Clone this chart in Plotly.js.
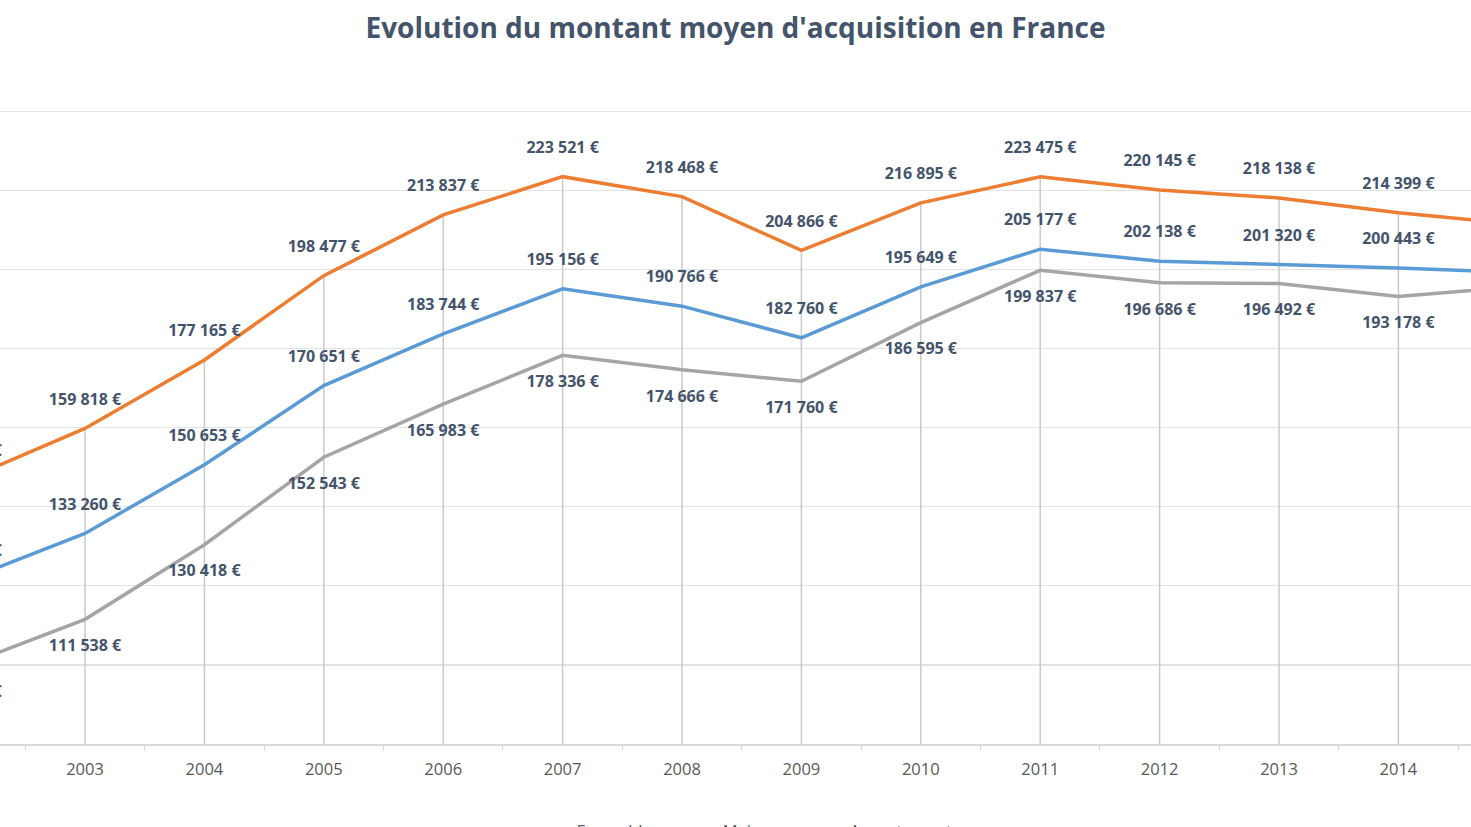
<!DOCTYPE html>
<html>
<head>
<meta charset="utf-8">
<script src="https://cdn.plot.ly/plotly-3.0.1.min.js"></script>
<style>
html,body{margin:0;padding:0;overflow:hidden;background:#fff;}
#chart{width:1471px;height:860px;}
</style>
</head>
<body>
<div id="chart"></div>
<script>
const years = [2002, 2003, 2004, 2005, 2006, 2007, 2008, 2009, 2010, 2011, 2012, 2013, 2014, 2015];
const ensemble = [121500, 133260, 150653, 170651, 183744, 195156, 190766, 182760, 195649, 205177, 202138, 201320, 200443, 199300];
const maison = [146900, 159818, 177165, 198477, 213837, 223521, 218468, 204866, 216895, 223475, 220145, 218138, 214399, 211500];
const appartement = [100000, 111538, 130418, 152543, 165983, 178336, 174666, 171760, 186595, 199837, 196686, 196492, 193178, 195700];
const seriesNames = ['Ensemble', 'Maison', 'Appartement'];
const yMin = 80000, yMax = 250000;

const labelFont = {family: 'Open Sans, sans-serif', size: 16, color: '#44546A', weight: 700};

// drop lines from the highest series down to the axis
const dropX = [], dropY = [];
years.forEach((yr, i) => { dropX.push(yr, yr, null); dropY.push(maison[i], yMin, null); });

function series(name, vals, color, pos) {
  return {
    type: 'scatter', mode: 'lines+markers+text', name: name,
    x: years, y: vals,
    line: {color: color, width: 3.5},
    marker: {size: 30, color: 'rgba(0,0,0,0)'},
    texttemplate: '%{y:,.0f} €', textposition: pos,
    textfont: labelFont, cliponaxis: true, hoverinfo: 'skip'
  };
}

const data = [
  {type: 'scatter', mode: 'lines', x: dropX, y: dropY, showlegend: false,
   line: {color: '#C9C9C9', width: 1.5}, hoverinfo: 'skip'},
  series(seriesNames[0], ensemble, '#5B9BD5', 'top center'),
  series(seriesNames[1], maison, '#ED7D31', 'top center'),
  series(seriesNames[2], appartement, '#A5A5A5', 'bottom center')
];

const layout = {
  width: 1471, height: 860,
  margin: {l: 0, r: 0, t: 72, b: 116},
  paper_bgcolor: '#fff', plot_bgcolor: '#fff',
  separators: ', ',
  title: {text: "Evolution du montant moyen d'acquisition en France",
          font: {family: 'Open Sans, sans-serif', size: 28, color: '#44546A', weight: 700},
          x: 0.5, xanchor: 'center', y: 1 - 28/860, yref: 'container', yanchor: 'middle'},
  xaxis: {range: [2002.288, 2014.608], tickmode: 'array', tickvals: years, ticktext: years.map(String),
          showgrid: false, zeroline: false, showline: true, linecolor: '#D9D9D9', linewidth: 1.5,
          ticks: '', ticklabelstandoff: 10,
          tickfont: {family: 'Open Sans, sans-serif', size: 16.5, color: '#595959'},
          minor: {tick0: 2002.5, dtick: 1, ticks: 'outside', ticklen: 5, tickcolor: '#D9D9D9', showgrid: false}},
  yaxis: {range: [yMin, yMax], dtick: 20000, showticklabels: false, showgrid: true,
          gridcolor: '#E3E3E3', gridwidth: 1.2, zeroline: false, showline: false},
  showlegend: true,
  legend: {orientation: 'h', x: 0.499, xanchor: 'center', y: -0.103, yanchor: 'top', itemwidth: 56,
           font: {family: 'Open Sans, sans-serif', size: 16.5, color: '#595959'}}
};

Plotly.newPlot('chart', data, layout, {displayModeBar: false, staticPlot: true});
</script>
</body>
</html>
